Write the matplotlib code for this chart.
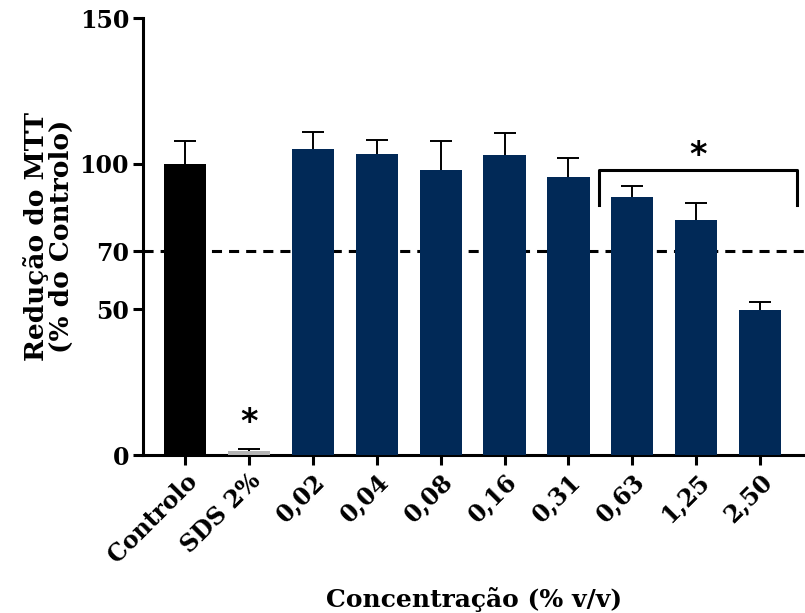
import matplotlib
matplotlib.use('Agg')
from matplotlib import pyplot as plt

# viabilidade celular (MTT) em % do controlo
categorias = ['Controlo', 'SDS 2%', '0,02', '0,04', '0,08', '0,16',
              '0,31', '0,63', '1,25', '2,50']
medias = [100, 1.4, 105.0, 103.3, 97.8, 103.0, 95.4, 88.6, 80.7, 49.8]
erros = [7.8, 0.6, 6.0, 5.0, 10.0, 7.6, 6.4, 3.6, 5.7, 2.7]
cores = ['black', '#b4b4b4'] + ['#012957'] * 8

limite = 70
yticks = [0, 50, 70, 100, 150]

serif = 'DejaVu Serif'

fig = plt.figure(figsize=(8.05, 6.13), dpi=100)
ax = fig.add_axes([0.1776, 0.2577, 0.8224, 0.7129])

x = list(range(len(categorias)))
ax.bar(x, medias, width=0.66, color=cores, zorder=3)
ax.errorbar(x, medias, yerr=erros, fmt='none', ecolor='black',
            elinewidth=1.4, capsize=8, capthick=1.4, zorder=2)

# linha de referencia nos 70 %, por tras das barras
ax.axhline(limite, color='black', linestyle=(0, (3.3, 2.3)), linewidth=2.2,
           zorder=1)

# asteriscos e chaveta de significancia
ax.text(1, 5.5, '*', ha='center', va='bottom', fontsize=24,
        fontweight='bold')
ax.plot([6.48, 6.48, 9.58, 9.58], [85.8, 97.8, 97.8, 85.8],
        color='black', linewidth=2.2, zorder=4)
ax.text(8.03, 97.3, '*', ha='center', va='bottom', fontsize=24,
        fontweight='bold')

ax.set_xlim(-0.656, 9.7)
ax.set_ylim(0, 150)
ax.set_yticks(yticks)
ax.set_yticklabels([str(v) for v in yticks], family=serif,
                   fontweight='bold', fontsize=17)
ax.set_xticks(x)
ax.set_xticklabels(categorias, rotation=45, ha='right',
                   rotation_mode='anchor', family=serif,
                   fontweight='bold', fontsize=17)

for lado in ['top', 'right']:
    ax.spines[lado].set_visible(False)
for lado in ['left', 'bottom']:
    ax.spines[lado].set_linewidth(2.2)
ax.tick_params(axis='both', width=2.2, length=7, pad=3)

ax.set_ylabel('Redução do MTT\n(% do Controlo)', family=serif,
              fontweight='bold', fontsize=19, labelpad=4,
              linespacing=1.0)
ax.set_xlabel('Concentração (% v/v)', family=serif,
              fontweight='bold', fontsize=18, labelpad=14)

fig.savefig('out.png', dpi=100)
